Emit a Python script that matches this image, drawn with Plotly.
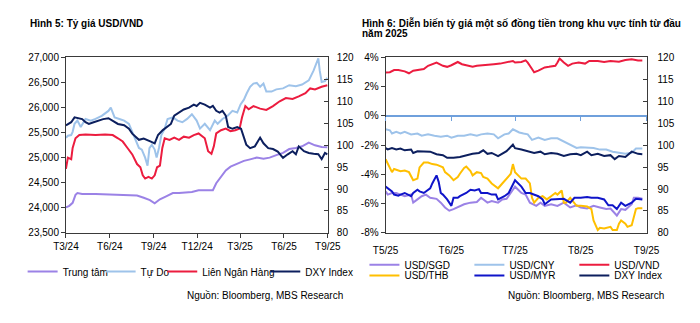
import plotly.graph_objects as go

FONT = "Liberation Sans, Arial, sans-serif"
AXIS = "#3a3a3a"

# ---------------- Hình 5: USD/VND (left panel) ----------------
CENTRAL_DATES = ["2024-03-01", "2024-03-08", "2024-03-15", "2024-03-21", "2024-03-25", "2024-04-04",
                 "2024-05-02", "2024-06-04", "2024-07-08", "2024-07-28", "2024-08-11", "2024-08-24",
                 "2024-09-03", "2024-09-14", "2024-09-27", "2024-10-11", "2024-10-24", "2024-11-07",
                 "2024-11-20", "2024-12-04", "2024-12-17", "2025-01-03", "2025-01-10", "2025-01-20",
                 "2025-01-30", "2025-02-09", "2025-02-23", "2025-03-09", "2025-03-22", "2025-04-05",
                 "2025-04-19", "2025-05-02", "2025-05-16", "2025-05-30", "2025-06-12", "2025-06-26",
                 "2025-07-09", "2025-07-23", "2025-08-05", "2025-08-19", "2025-08-31"]
CENTRAL = [24010, 24040, 24100, 24260, 24295, 24275, 24275, 24262, 24262, 24245, 24200, 24155,
           24090, 24170, 24230, 24295, 24295, 24310, 24315, 24350, 24350, 24350, 24490, 24615,
           24745, 24820, 24870, 24935, 24965, 25000, 24980, 25000, 25050, 25095, 25170, 25190,
           25225, 25300, 25245, 25210, 25205]

FREE_DATES = ["2024-03-01", "2024-03-05", "2024-03-12", "2024-03-15", "2024-03-19", "2024-03-25",
              "2024-04-01", "2024-04-11", "2024-04-22", "2024-05-02", "2024-05-15", "2024-05-29",
              "2024-06-03", "2024-06-11", "2024-06-21", "2024-07-01", "2024-07-11", "2024-07-18",
              "2024-07-25", "2024-08-01", "2024-08-07", "2024-08-14", "2024-08-19", "2024-08-23",
              "2024-08-28", "2024-09-03", "2024-09-07", "2024-09-12", "2024-09-17", "2024-09-24",
              "2024-09-30", "2024-10-11", "2024-10-21", "2024-10-31", "2024-11-10", "2024-11-20",
              "2024-11-30", "2024-12-07", "2024-12-17", "2024-12-28", "2025-01-07", "2025-01-13",
              "2025-01-23", "2025-02-03", "2025-02-13", "2025-02-23", "2025-03-02", "2025-03-09",
              "2025-03-15", "2025-03-22", "2025-03-29", "2025-04-05", "2025-04-12", "2025-04-19",
              "2025-04-25", "2025-05-06", "2025-05-16", "2025-05-30", "2025-06-12", "2025-06-26",
              "2025-07-09", "2025-07-23", "2025-08-02", "2025-08-09", "2025-08-12", "2025-08-15",
              "2025-08-19", "2025-08-26", "2025-08-31"]
FREE = [25397, 25435, 25450, 25513, 25673, 25737, 25610, 25770, 25737, 25770, 25833, 25930,
        25994, 25800, 25770, 25737, 25673, 25513, 25385, 25192, 25160, 25000, 24840, 25190,
        25256, 25160, 25000, 25192, 25449, 25578, 25770, 25800, 25737, 25705, 25770, 25865,
        25737, 25578, 25673, 25545, 25737, 25673, 25770, 25833, 25930, 25898, 26058, 26154,
        26282, 26410, 26474, 26487, 26410, 26474, 26314, 26314, 26359, 26378, 26442, 26423,
        26455, 26538, 26730, 26891, 26974, 26730, 26506, 26525, 26590]

INTERBANK_DATES = ["2024-03-01", "2024-03-05", "2024-03-12", "2024-03-15", "2024-03-21", "2024-03-29",
                   "2024-04-11", "2024-05-02", "2024-05-22", "2024-06-07", "2024-06-18", "2024-06-28",
                   "2024-07-08", "2024-07-18", "2024-07-28", "2024-08-04", "2024-08-09", "2024-08-14",
                   "2024-08-21", "2024-08-28", "2024-09-03", "2024-09-08", "2024-09-14", "2024-09-19",
                   "2024-09-24", "2024-10-04", "2024-10-14", "2024-10-24", "2024-11-03", "2024-11-14",
                   "2024-11-24", "2024-12-04", "2024-12-17", "2024-12-24", "2024-12-31", "2025-01-05",
                   "2025-01-10", "2025-01-20", "2025-01-30", "2025-02-09", "2025-02-19", "2025-02-28",
                   "2025-03-05", "2025-03-12", "2025-03-19", "2025-03-29", "2025-04-12", "2025-04-25",
                   "2025-05-09", "2025-05-23", "2025-06-05", "2025-06-19", "2025-07-02", "2025-07-16",
                   "2025-07-26", "2025-08-05", "2025-08-19", "2025-08-31"]
INTERBANK = [24776, 25000, 24968, 25192, 25385, 25449, 25462, 25449, 25462, 25449, 25385, 25320,
             25192, 25064, 24872, 24808, 24647, 24583, 24615, 24583, 24647, 24808, 24840, 25192,
             25385, 25353, 25398, 25353, 25417, 25398, 25449, 25481, 25385, 25128, 25077, 25224,
             25481, 25545, 25578, 25526, 25545, 25578, 25800, 26026, 25962, 26026, 25975, 25949,
             26026, 26122, 26186, 26167, 26218, 26282, 26378, 26359, 26410, 26442]

DXY_L_DATES = ["2024-03-01", "2024-03-05", "2024-03-12", "2024-03-19", "2024-03-29", "2024-04-04",
               "2024-04-11", "2024-04-18", "2024-04-28", "2024-05-08", "2024-05-18", "2024-05-29",
               "2024-06-07", "2024-06-18", "2024-07-01", "2024-07-11", "2024-07-18", "2024-07-25",
               "2024-08-01", "2024-08-11", "2024-08-19", "2024-08-26", "2024-09-03", "2024-09-10",
               "2024-09-20", "2024-09-30", "2024-10-07", "2024-10-14", "2024-10-24", "2024-11-03",
               "2024-11-14", "2024-11-24", "2024-11-30", "2024-12-07", "2024-12-17", "2024-12-28",
               "2025-01-03", "2025-01-10", "2025-01-17", "2025-01-23", "2025-01-30", "2025-02-04",
               "2025-02-13", "2025-02-23", "2025-03-03", "2025-03-09", "2025-03-14", "2025-03-22",
               "2025-04-01", "2025-04-12", "2025-04-19", "2025-04-29", "2025-05-09", "2025-05-19",
               "2025-05-30", "2025-06-09", "2025-06-19", "2025-06-26", "2025-07-02", "2025-07-13",
               "2025-07-23", "2025-08-02", "2025-08-12", "2025-08-19", "2025-08-26", "2025-08-31"]
DXY_L = [104.5, 104.8, 105.2, 106.3, 106.1, 105.9, 105.2, 104.8, 105.2, 105.6, 105.9, 106.1,
         105.6, 104.8, 104.5, 103.7, 102.6, 101.9, 101.2, 101.5, 101.2, 100.8, 100.4, 102.3,
         103.4, 104.3, 104.8, 106.7, 107.4, 108.1, 108.5, 109.2, 108.9, 109.6, 109.2, 108.5,
         108.9, 107.8, 107.4, 107.8, 106.7, 104.1, 103.7, 104.1, 103.7, 101.9, 100.1, 99.3,
         99.7, 101.7, 100.4, 99.3, 99.1, 98.5, 97.1, 97.9, 98.6, 97.9, 99.7, 98.6,
         98.2, 98.0, 97.9, 96.8, 98.2, 97.9]

LEFT_TICKS = ["2024-03-01", "2024-06-01", "2024-09-01", "2024-12-01",
              "2025-03-01", "2025-06-01", "2025-09-01"]
LEFT_TICK_LABELS = ["T3/24", "T6/24", "T9/24", "T12/24", "T3/25", "T6/25", "T9/25"]

# ---------------- Hình 6: regional currencies YTD (right panel) ----------------
SGD_DATES = ["2025-05-01", "2025-05-02", "2025-05-04", "2025-05-06", "2025-05-08", "2025-05-10",
             "2025-05-13", "2025-05-14", "2025-05-16", "2025-05-18", "2025-05-20", "2025-05-22",
             "2025-05-25", "2025-05-27", "2025-05-29", "2025-05-31", "2025-06-02", "2025-06-05",
             "2025-06-07", "2025-06-10", "2025-06-13", "2025-06-15", "2025-06-18", "2025-06-20",
             "2025-06-23", "2025-06-25", "2025-06-27", "2025-06-30", "2025-07-01", "2025-07-04",
             "2025-07-06", "2025-07-08", "2025-07-11", "2025-07-13", "2025-07-15", "2025-07-18",
             "2025-07-21", "2025-07-24", "2025-07-27", "2025-07-30", "2025-08-01", "2025-08-04",
             "2025-08-07", "2025-08-10", "2025-08-13", "2025-08-15", "2025-08-18", "2025-08-20",
             "2025-08-22", "2025-08-25", "2025-08-26", "2025-08-28", "2025-08-30"]
SGD = [-5.16, -5.38, -5.27, -5.27, -5.38, -5.49, -5.38, -5.93, -5.71, -5.49, -5.38, -5.60,
       -5.67, -5.93, -6.26, -6.48, -6.37, -6.15, -6.04, -5.93, -5.89, -5.60, -5.93, -5.82,
       -5.93, -5.71, -5.67, -5.05, -4.84, -5.27, -5.38, -5.93, -6.15, -5.93, -6.15, -6.04,
       -6.15, -5.93, -6.26, -6.11, -6.26, -6.33, -6.15, -6.26, -6.37, -6.33, -6.81, -6.37,
       -6.42, -6.04, -5.60, -5.60, -5.67]

CNY_DATES = ["2025-05-01", "2025-05-03", "2025-05-04", "2025-05-06", "2025-05-08", "2025-05-10",
             "2025-05-13", "2025-05-16", "2025-05-18", "2025-05-21", "2025-05-24", "2025-05-27",
             "2025-05-30", "2025-06-01", "2025-06-04", "2025-06-07", "2025-06-10", "2025-06-13",
             "2025-06-15", "2025-06-18", "2025-06-21", "2025-06-23", "2025-06-26", "2025-06-28",
             "2025-06-30", "2025-07-03", "2025-07-05", "2025-07-07", "2025-07-09", "2025-07-12",
             "2025-07-15", "2025-07-18", "2025-07-21", "2025-07-24", "2025-07-27", "2025-07-30",
             "2025-08-01", "2025-08-04", "2025-08-07", "2025-08-10", "2025-08-13", "2025-08-16",
             "2025-08-19", "2025-08-22", "2025-08-25", "2025-08-27", "2025-08-30"]
CNY = [-0.92, -0.99, -1.21, -1.10, -1.21, -1.10, -1.27, -1.21, -1.36, -1.27, -1.36, -1.43,
       -1.36, -1.49, -1.36, -1.36, -1.27, -1.36, -1.27, -1.21, -1.27, -1.54, -1.27, -1.21,
       -0.92, -1.14, -1.21, -1.27, -1.65, -1.49, -1.65, -1.54, -1.54, -1.76, -1.98, -2.20,
       -2.15, -2.15, -2.20, -2.31, -2.31, -2.46, -2.53, -2.59, -2.53, -2.24, -2.24]

VND_DATES = ["2025-05-01", "2025-05-03", "2025-05-05", "2025-05-07", "2025-05-10", "2025-05-12",
             "2025-05-14", "2025-05-16", "2025-05-19", "2025-05-21", "2025-05-23", "2025-05-25",
             "2025-05-28", "2025-05-30", "2025-06-01", "2025-06-04", "2025-06-06", "2025-06-08",
             "2025-06-11", "2025-06-13", "2025-06-16", "2025-06-18", "2025-06-21", "2025-06-24",
             "2025-06-27", "2025-06-30", "2025-07-01", "2025-07-04", "2025-07-06", "2025-07-07",
             "2025-07-09", "2025-07-10", "2025-07-12", "2025-07-15", "2025-07-17", "2025-07-20",
             "2025-07-21", "2025-07-22", "2025-07-24", "2025-07-26", "2025-07-28", "2025-07-31",
             "2025-08-03", "2025-08-05", "2025-08-09", "2025-08-12", "2025-08-15", "2025-08-19",
             "2025-08-22", "2025-08-25", "2025-08-28", "2025-08-30"]
VND = [2.95, 2.97, 3.12, 3.12, 3.03, 2.90, 3.08, 3.12, 3.19, 3.41, 3.52, 3.63,
       3.41, 3.34, 3.45, 3.67, 3.52, 3.45, 3.34, 3.41, 3.47, 3.47, 3.52, 3.56,
       3.67, 3.74, 3.63, 3.67, 3.78, 3.63, 3.19, 2.97, 3.08, 3.30, 3.34, 3.41,
       3.63, 3.91, 3.63, 3.41, 3.56, 3.63, 3.56, 3.74, 3.74, 3.67, 3.74, 3.69,
       3.80, 3.85, 3.78, 3.78]

THB_DATES = ["2025-05-01", "2025-05-02", "2025-05-04", "2025-05-05", "2025-05-07", "2025-05-08",
             "2025-05-10", "2025-05-12", "2025-05-14", "2025-05-16", "2025-05-17", "2025-05-19",
             "2025-05-21", "2025-05-23", "2025-05-25", "2025-05-28", "2025-05-29", "2025-05-31",
             "2025-06-02", "2025-06-04", "2025-06-05", "2025-06-07", "2025-06-08", "2025-06-10",
             "2025-06-11", "2025-06-13", "2025-06-15", "2025-06-16", "2025-06-18", "2025-06-20",
             "2025-06-23", "2025-06-25", "2025-06-27", "2025-06-29", "2025-06-30", "2025-07-01",
             "2025-07-04", "2025-07-06", "2025-07-08", "2025-07-09", "2025-07-10", "2025-07-12",
             "2025-07-14", "2025-07-16", "2025-07-18", "2025-07-20", "2025-07-21", "2025-07-23",
             "2025-07-24", "2025-07-25", "2025-07-27", "2025-07-30", "2025-08-01", "2025-08-04",
             "2025-08-06", "2025-08-07", "2025-08-09", "2025-08-10", "2025-08-12", "2025-08-15",
             "2025-08-16", "2025-08-18", "2025-08-19", "2025-08-20", "2025-08-22", "2025-08-23",
             "2025-08-25", "2025-08-27", "2025-08-28", "2025-08-30"]
THB = [-2.97, -3.30, -3.85, -3.63, -3.74, -3.78, -3.74, -3.85, -4.40, -4.29, -3.52, -3.19,
       -3.19, -3.30, -3.34, -3.52, -3.85, -4.07, -4.40, -4.18, -3.96, -3.56, -3.47, -3.78,
       -4.07, -3.85, -3.91, -4.18, -4.29, -4.62, -4.95, -4.62, -4.29, -3.96, -3.30, -3.85,
       -4.29, -4.29, -4.62, -5.60, -5.93, -5.60, -5.49, -5.71, -5.49, -5.27, -5.38, -5.10,
       -5.93, -5.93, -5.60, -6.15, -6.15, -6.20, -6.37, -7.14, -7.80, -7.65, -7.69, -7.58,
       -7.80, -7.80, -7.36, -7.14, -7.36, -7.58, -7.47, -6.37, -6.31, -6.31]

MYR_DATES = ["2025-05-01", "2025-05-02", "2025-05-04", "2025-05-05", "2025-05-07", "2025-05-08",
             "2025-05-10", "2025-05-13", "2025-05-14", "2025-05-16", "2025-05-17", "2025-05-19",
             "2025-05-22", "2025-05-23", "2025-05-25", "2025-05-26", "2025-05-27", "2025-05-28",
             "2025-05-30", "2025-06-01", "2025-06-02", "2025-06-04", "2025-06-05", "2025-06-08",
             "2025-06-10", "2025-06-12", "2025-06-14", "2025-06-15", "2025-06-18", "2025-06-20",
             "2025-06-22", "2025-06-23", "2025-06-26", "2025-06-28", "2025-06-30", "2025-07-01",
             "2025-07-04", "2025-07-06", "2025-07-08", "2025-07-12", "2025-07-14", "2025-07-15",
             "2025-07-18", "2025-07-21", "2025-07-24", "2025-07-27", "2025-07-29", "2025-08-01",
             "2025-08-04", "2025-08-06", "2025-08-09", "2025-08-12", "2025-08-14", "2025-08-16",
             "2025-08-18", "2025-08-20", "2025-08-22", "2025-08-25", "2025-08-27", "2025-08-30"]
MYR = [-4.84, -4.95, -5.16, -5.38, -5.45, -5.38, -5.27, -5.49, -5.27, -5.05, -5.16, -5.27,
       -4.95, -4.62, -4.07, -4.51, -5.27, -5.38, -5.71, -6.15, -5.60, -5.60, -5.49, -5.27,
       -5.05, -5.10, -5.01, -5.27, -5.27, -5.38, -5.38, -5.71, -5.49, -5.27, -4.62, -4.40,
       -4.84, -5.27, -5.27, -5.49, -5.71, -6.04, -5.71, -5.71, -5.67, -5.93, -5.60, -5.60,
       -5.54, -5.60, -5.60, -5.71, -6.11, -6.11, -6.37, -5.93, -6.15, -5.93, -5.67, -5.71]

DXY_R_DATES = ["2025-05-01", "2025-05-02", "2025-05-04", "2025-05-06", "2025-05-08", "2025-05-10",
               "2025-05-13", "2025-05-14", "2025-05-16", "2025-05-19", "2025-05-22", "2025-05-25",
               "2025-05-28", "2025-05-30", "2025-06-02", "2025-06-05", "2025-06-08", "2025-06-11",
               "2025-06-14", "2025-06-16", "2025-06-18", "2025-06-20", "2025-06-23", "2025-06-25",
               "2025-06-27", "2025-06-30", "2025-07-01", "2025-07-04", "2025-07-07", "2025-07-10",
               "2025-07-13", "2025-07-15", "2025-07-18", "2025-07-21", "2025-07-24", "2025-07-27",
               "2025-07-30", "2025-08-01", "2025-08-04", "2025-08-06", "2025-08-09", "2025-08-12",
               "2025-08-15", "2025-08-17", "2025-08-19", "2025-08-22", "2025-08-25", "2025-08-28",
               "2025-08-30"]
DXY_R = [99.3, 99.0, 99.3, 99.0, 99.2, 98.8, 99.0, 98.2, 98.6, 98.5, 98.5, 97.9,
         97.7, 97.1, 97.1, 97.3, 97.7, 98.0, 98.2, 98.8, 98.0, 98.2, 97.5, 98.0,
         98.6, 100.1, 99.3, 99.0, 98.6, 98.2, 98.5, 97.9, 98.2, 98.0, 97.5, 97.9,
         98.0, 97.7, 98.5, 97.7, 98.0, 97.5, 97.7, 96.8, 97.5, 97.3, 98.5, 98.0,
         97.9]

RIGHT_TICKS = ["2025-05-01", "2025-06-01", "2025-07-01", "2025-08-01", "2025-09-01"]
RIGHT_TICK_LABELS = ["T5/25", "T6/25", "T7/25", "T8/25", "T9/25"]
PCT_TICKS = [-8, -6, -4, -2, 0, 2, 4]
PCT_TICK_LABELS = ["-8%", "-6%", "-4%", "-2%", "0%", "2%", "4%"]

# series colours
C_PURPLE = "#9b82e6"
C_LIGHTBLUE = "#9ec3ea"
C_RED = "#ec1c3f"
C_NAVY = "#0c1f5e"
C_GOLD = "#ffbf00"
C_BLUE = "#0f14c9"
C_ZERO = "#6fa0dc"

W, H = 700, 323


def px_x(p):
    return p / W


def px_y(p):
    return 1 - p / H


# plot-area geometry (paper fractions)
L_DOM = [px_x(55), px_x(327)]
R_DOM = [px_x(387), px_x(658)]
Y_DOM = [px_y(236), px_y(54)]
ZERO_POS = Y_DOM[0] + (0 - PCT_TICKS[0]) / (PCT_TICKS[-1] - PCT_TICKS[0]) * (Y_DOM[1] - Y_DOM[0])

fig = go.Figure()

LW = 2.0


def line(x, y, name, color, xa, ya, legend):
    fig.add_trace(go.Scatter(x=x, y=y, name=name, mode="lines", showlegend=True,
                             line=dict(color=color, width=LW),
                             xaxis=xa, yaxis=ya, legend=legend, hoverinfo="skip"))


line(CENTRAL_DATES, CENTRAL, "Trung tâm", C_PURPLE, "x", "y", "legend")
line(FREE_DATES, FREE, "Tự Do", C_LIGHTBLUE, "x", "y", "legend2")
line(INTERBANK_DATES, INTERBANK, "Liên Ngân Hàng", C_RED, "x", "y", "legend3")
line(DXY_L_DATES, DXY_L, "DXY Index", C_NAVY, "x", "y2", "legend4")

line(SGD_DATES, SGD, "USD/SGD", C_PURPLE, "x2", "y3", "legend5")
line(CNY_DATES, CNY, "USD/CNY", C_LIGHTBLUE, "x2", "y3", "legend6")
line(VND_DATES, VND, "USD/VND", C_RED, "x3", "y3", "legend7")
line(THB_DATES, THB, "USD/THB", C_GOLD, "x2", "y3", "legend8")
line(MYR_DATES, MYR, "USD/MYR", C_BLUE, "x2", "y3", "legend9")
line(DXY_R_DATES, DXY_R, "DXY Index", C_NAVY, "x2", "y4", "legend10")

tick_font = dict(family=FONT, size=10, color="#000000")
axis_common = dict(showline=True, linecolor=AXIS, linewidth=1, showgrid=False,
                   zeroline=False, tickfont=tick_font, tickcolor=AXIS)

layout = dict(
    width=W, height=H, autosize=False,
    margin=dict(l=0, r=0, t=0, b=0, pad=0),
    paper_bgcolor="white", plot_bgcolor="white",
    font=dict(family=FONT, size=10, color="#000000"),
    hovermode=False,
    showlegend=True,
    xaxis=dict(axis_common, domain=L_DOM, anchor="y", type="date",
               range=[LEFT_TICKS[0], LEFT_TICKS[-1]], tickvals=LEFT_TICKS,
               ticktext=LEFT_TICK_LABELS, ticks="outside", ticklen=4, mirror=True),
    yaxis=dict(axis_common, domain=Y_DOM, anchor="x", range=[23500, 27000],
               dtick=500, tickformat=",", ticks="outside", ticklen=4),
    yaxis2=dict(axis_common, anchor="x", overlaying="y", side="right",
                range=[80, 120], dtick=5, ticks="inside", ticklen=4,
                ticklabelstandoff=6),
    xaxis2=dict(axis_common, domain=R_DOM, anchor="y3", type="date",
                range=[RIGHT_TICKS[0], RIGHT_TICKS[-1]], tickvals=RIGHT_TICKS,
                ticktext=RIGHT_TICK_LABELS, ticks="", mirror=True,
                ticklabelstandoff=8),
    xaxis3=dict(overlaying="x2", anchor="free", position=ZERO_POS, type="date",
                range=[RIGHT_TICKS[0], RIGHT_TICKS[-1]], tickvals=RIGHT_TICKS,
                showticklabels=False, showline=True, linecolor=C_ZERO, linewidth=1.5,
                ticks="outside", ticklen=4, tickcolor=C_ZERO, showgrid=False,
                zeroline=False),
    yaxis3=dict(axis_common, domain=Y_DOM, anchor="x2", range=[PCT_TICKS[0], PCT_TICKS[-1]],
                tickvals=PCT_TICKS, ticktext=PCT_TICK_LABELS, ticks="outside", ticklen=4),
    yaxis4=dict(axis_common, anchor="x2", overlaying="y3", side="right",
                range=[80, 120], dtick=5, ticks="inside", ticklen=4,
                ticklabelstandoff=8),
)

# one legend per entry so each sits exactly where it belongs
legend_spots = {
    "legend": (50, 276), "legend2": (131, 276), "legend3": (195, 276), "legend4": (302, 276),
    "legend5": (405, 269), "legend6": (514, 269), "legend7": (623, 269),
    "legend8": (405, 280), "legend9": (514, 280), "legend10": (623, 280),
}
for key, (tx, ty) in legend_spots.items():
    layout[key] = dict(x=px_x(tx - 40), y=px_y(ty), xanchor="left", yanchor="middle",
                       orientation="h", bgcolor="rgba(0,0,0,0)", borderwidth=0,
                       font=dict(family=FONT, size=10, color="#000000"),
                       itemclick=False, itemdoubleclick=False, visible=True)

title_font = dict(family=FONT, size=10, color="#000000")
layout["annotations"] = [
    dict(text="<b>Hình 5: Tỷ giá USD/VND</b>", xref="paper", yref="paper",
         x=px_x(16), y=px_y(19), xanchor="left", yanchor="middle", showarrow=False,
         font=title_font),
    dict(text="<b>Hình 6: Diễn biến tỷ giá một số đồng tiền trong khu vực tính từ đầu</b>",
         xref="paper", yref="paper", x=px_x(360), y=px_y(19), xanchor="left",
         yanchor="middle", showarrow=False, font=title_font),
    dict(text="<b>năm 2025</b>", xref="paper", yref="paper", x=px_x(360), y=px_y(30),
         xanchor="left", yanchor="middle", showarrow=False, font=title_font),
    dict(text="Nguồn: Bloomberg, MBS Research", xref="paper", yref="paper",
         x=px_x(345), y=px_y(301), xanchor="right", yanchor="middle", showarrow=False,
         font=title_font),
    dict(text="Nguồn: Bloomberg, MBS Research", xref="paper", yref="paper",
         x=px_x(678), y=px_y(301), xanchor="right", yanchor="middle", showarrow=False,
         font=title_font),
]

fig.update_layout(layout)
fig.write_html("out.html")
